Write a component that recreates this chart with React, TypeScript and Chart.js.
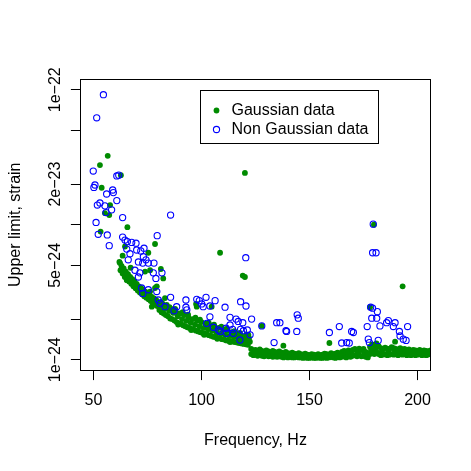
import { useEffect, useRef } from "react";
import { Chart, registerables } from "chart.js";

Chart.register(...registerables);

const FONT = "'Liberation Sans', Arial, Helvetica, sans-serif";
const GREEN = "#008B00";
const BLUE = "#0000FF";

// Axis limits (Hz) and (strain, log10 of units of 1e-24), widened 4% like R does
const X_LIMITS = [50, 200];
const Y_LIMITS_LOG = [0, 2];

const xTicks = [50, 100, 150, 200];
const yTicks = [1, 2, 5, 10, 20, 50, 100]; // units of 1e-24
const yTickLabels = ["1e\u221224", "", "5e\u221224", "", "2e\u221223", "", "1e\u221222"];

const legendLabels = ["Gaussian data", "Non Gaussian data"];
const axisTitles = { x: "Frequency, Hz", y: "Upper limit, strain" };

// [frequency Hz, upper limit strain in units of 1e-24]
const gaussianOutliers: [number, number][] = [
  [56.6, 32.4], [53.0, 27.7], [62.7, 23.3], [53.8, 18.8], [57.7, 14.0], [55.3, 12.2], [57.3, 11.8],
  [65.7, 9.6], [53.3, 8.9], [78.5, 7.2], [64.6, 6.9], [63.5, 5.9], [75.4, 6.2], [62.3, 5.2],
  [67.2, 4.8], [73.9, 4.5], [76.2, 4.6], [81.2, 4.7], [82.3, 4.0], [65.4, 3.9], [66.9, 3.8],
  [68.4, 3.7], [70.8, 3.3], [72.3, 3.2], [76.2, 3.2], [78.5, 3.4], [79.3, 3.5], [77.0, 2.9],
  [77.7, 2.55], [77.0, 2.47], [83.1, 2.86], [83.9, 2.55], [120.1, 24.2], [108.6, 6.2], [119.1, 4.2],
  [120.1, 4.1], [193.1, 3.5], [178.0, 2.45], [179.8, 10.0], [127.9, 1.78], [159.2, 1.33],
  [137.9, 1.27], [189.6, 1.36], [121.7, 1.53], [97.5, 2.59], [97.8, 2.47], [104.7, 2.47],
];

const gaussianBandLow: [number, number][] = [
  [62, 5.3], [62.5, 4.6], [63, 4.95], [63.5, 4.35], [64, 4.75], [64.5, 4.1], [65, 4.5], [65.5, 3.9],
  [66, 4.3], [66.5, 3.8], [67, 4.1], [67.5, 3.65], [68, 3.95], [68.5, 3.5], [69, 3.8], [69.5, 3.38],
  [70, 3.65], [70.5, 3.25], [71, 3.5], [71.5, 3.15], [72, 3.4], [72.5, 3.05], [73, 3.3], [73.5, 2.95],
  [74, 3.2], [74.5, 2.88], [75, 3.1], [75.5, 2.8], [76, 3.0], [76.5, 2.72], [77, 2.92], [77.5, 2.65],
  [78, 2.85], [78.5, 2.57], [79, 2.78], [79.5, 2.5],
  [80.0, 2.62], [80.5, 2.34], [81.0, 2.51], [81.5, 2.25], [82.0, 2.6], [82.5, 2.2], [83.0, 2.4],
  [83.5, 2.14], [84.0, 2.47], [84.5, 2.1], [85.0, 2.3], [85.5, 2.02], [86.0, 2.38], [86.5, 2.0],
  [87.0, 2.22], [87.5, 1.95], [88.0, 2.3], [88.5, 1.9], [89.0, 2.1], [89.5, 1.86], [90.0, 2.2],
  [90.5, 1.84], [91.0, 2.0], [91.5, 1.8], [92.0, 2.14], [92.5, 1.77], [93.0, 1.94], [93.5, 1.74],
  [94.0, 2.06], [94.5, 1.72], [95.0, 1.88], [95.5, 1.69], [96.0, 2.0], [96.5, 1.67], [97.0, 1.82],
  [97.5, 1.64], [98.0, 1.95], [98.5, 1.62], [99.0, 1.77], [99.5, 1.6], [100.0, 1.9], [100.5, 1.58],
  [101.0, 1.72], [101.5, 1.56], [102.0, 1.85], [102.5, 1.54], [103.0, 1.68], [103.5, 1.52],
  [104.0, 1.8], [104.5, 1.5], [105.0, 1.64], [105.5, 1.48], [106.0, 1.76], [106.5, 1.47], [107.0, 1.6],
  [107.5, 1.45], [108.0, 1.72], [108.5, 1.44], [109.0, 1.56], [109.5, 1.42], [110.0, 1.68],
  [110.5, 1.41], [111.0, 1.53], [111.5, 1.39], [112.0, 1.64], [112.5, 1.38], [113.0, 1.5],
  [113.5, 1.37], [114.0, 1.6], [114.5, 1.36], [115.0, 1.47], [115.5, 1.35], [116.0, 1.56],
  [116.5, 1.34], [117.0, 1.44], [117.5, 1.33], [118.0, 1.52], [118.5, 1.32], [119.0, 1.42],
  [119.5, 1.31], [120.0, 1.48], [120.5, 1.3], [121.0, 1.39], [121.5, 1.29], [122.0, 1.45], [122.4, 1.36],
  [81.3, 2.68], [85.2, 2.45], [87.8, 2.38], [91.3, 2.25], [93.8, 2.16], [97.2, 2.05], [99.3, 1.98],
  [103.3, 1.88], [105.8, 1.82], [109.2, 1.76], [111.8, 1.7], [115.2, 1.63], [117.8, 1.58],
  [120.8, 1.54], [89.2, 1.82], [95.2, 1.66], [101.2, 1.53], [107.3, 1.43], [113.2, 1.35],
];

const gaussianBandHigh: [number, number][] = [
  [123, 1.2], [123, 1.1], [124, 1.17], [124, 1.08], [124.5, 1.13], [125, 1.18], [125, 1.09], [126, 1.15],
  [126, 1.07], [127, 1.19], [127, 1.1], [127.5, 1.14], [128, 1.16], [128, 1.07], [129, 1.14], [129, 1.06],
  [130, 1.17], [130, 1.08], [130.5, 1.12], [131, 1.15], [131, 1.06], [132, 1.13], [132, 1.07], [133, 1.16],
  [133, 1.05], [133.5, 1.1], [134, 1.14], [134, 1.06], [135, 1.12], [135, 1.05], [136, 1.15], [136, 1.06],
  [136.5, 1.1], [137, 1.13], [137, 1.05], [138, 1.12], [138, 1.04], [139, 1.14], [139, 1.06], [139.5, 1.09],
  [140, 1.12], [140, 1.04], [141, 1.11], [141, 1.05], [142, 1.13], [142, 1.04], [142.5, 1.08], [143, 1.11],
  [143, 1.04], [144, 1.1], [144, 1.05], [145, 1.12], [145, 1.04], [145.5, 1.07], [146, 1.1], [146, 1.04],
  [147, 1.09], [147, 1.03], [148, 1.11], [148, 1.04], [148.5, 1.07], [149, 1.09], [149, 1.03], [150, 1.08],
  [150, 1.03], [151, 1.1], [151, 1.04], [151.5, 1.06], [152, 1.09], [152, 1.03], [153, 1.08], [153, 1.03],
  [154, 1.1], [154, 1.04], [154.5, 1.06], [155, 1.08], [155, 1.03], [156, 1.09], [156, 1.03], [157, 1.11],
  [157, 1.04], [157.5, 1.07], [158, 1.1], [158, 1.03], [159, 1.09], [159, 1.04], [160, 1.12], [160, 1.05],
  [160.5, 1.07], [161, 1.1], [161, 1.04], [162, 1.11], [162, 1.03], [163, 1.13], [163, 1.05], [163.5, 1.08],
  [164, 1.1], [164, 1.04], [165, 1.14], [165, 1.05], [166, 1.16], [166, 1.06], [166.5, 1.1], [167, 1.13],
  [167, 1.04], [168, 1.17], [168, 1.06], [169, 1.15], [169, 1.05], [169.5, 1.1], [170, 1.18], [170, 1.07],
  [171, 1.2], [171, 1.08], [172, 1.17], [172, 1.06], [172.5, 1.12], [173, 1.21], [173, 1.08], [174, 1.18],
  [174, 1.06], [175, 1.2], [175, 1.07], [175.5, 1.13], [176, 1.14], [176, 1.05], [177, 1.12], [177, 1.04],
  [178, 1.25], [178, 1.1], [178.5, 1.18], [179, 1.3], [179, 1.12], [180, 1.28], [180, 1.1], [180.5, 1.2],
  [181, 1.32], [181, 1.14], [182, 1.26], [182, 1.1], [183, 1.22], [183, 1.08], [183.5, 1.15], [184, 1.2],
  [184, 1.09], [185, 1.23], [185, 1.1], [186, 1.21], [186, 1.08], [186.5, 1.15], [187, 1.2], [187, 1.09],
  [188, 1.24], [188, 1.1], [189, 1.22], [189, 1.09], [189.5, 1.16], [190, 1.2], [190, 1.1], [191, 1.18],
  [191, 1.08], [192, 1.22], [192, 1.1], [192.5, 1.15], [193, 1.19], [193, 1.09], [194, 1.2], [194, 1.1],
  [195, 1.17], [195, 1.08], [195.5, 1.12], [196, 1.19], [196, 1.09], [197, 1.16], [197, 1.08], [198, 1.18],
  [198, 1.1], [198.5, 1.13], [199, 1.17], [199, 1.08], [200, 1.16], [200, 1.09], [201, 1.18], [201, 1.1],
  [201.5, 1.13], [202, 1.15], [202, 1.08], [203, 1.17], [203, 1.09], [204, 1.16], [204, 1.08], [204.5, 1.12],
  [205, 1.15], [205, 1.09], [206, 1.17], [206, 1.1],
];

const nonGaussianPoints: [number, number][] = [
  [54.6, 92], [51.5, 62], [49.9, 25], [60.8, 23], [61.7, 23.3], [50.7, 19.7], [50.2, 18.9], [58.9, 18.1],
  [56.1, 16.9], [59.2, 17.3], [60.8, 15.1], [51.8, 14.0], [53.0, 14.5], [55.3, 13.8], [58.4, 12.9],
  [55.8, 12.3], [85.7, 11.8], [63.5, 11.3], [51.2, 10.4], [52.2, 8.5], [56.4, 8.4], [57.3, 7.0],
  [63.5, 8.1], [64.6, 7.7], [65.7, 7.5], [67.7, 7.4], [69.7, 7.3], [79.5, 8.3], [65.4, 6.6], [66.9, 6.1],
  [70.0, 6.5], [71.9, 6.4], [73.4, 6.7], [73.1, 5.8], [74.3, 5.5], [75.4, 5.2], [70.8, 5.3], [72.8, 5.2],
  [78.0, 5.2], [66.1, 5.5], [69.2, 4.6], [71.5, 4.4], [77.7, 4.4], [81.7, 4.4], [70.8, 4.1], [78.9, 4.0],
  [72.3, 3.4], [72.8, 3.1], [75.4, 3.3], [79.3, 3.2], [80.0, 2.77], [80.8, 2.62], [85.7, 2.9], [92.8, 2.77],
  [97.8, 2.8], [83.1, 2.47], [88.5, 2.47], [92.8, 2.45], [99.0, 2.74], [102.1, 2.9], [106.3, 2.74],
  [100.1, 2.59], [100.8, 2.47], [103.9, 2.5], [110.9, 2.45], [118.1, 2.69], [120.6, 2.5], [87.3, 2.31],
  [93.2, 2.34], [103.9, 2.08], [102.4, 1.86], [105.5, 1.74], [107.8, 1.66], [108.6, 1.62], [113.2, 2.06],
  [116.0, 2.0], [117.0, 1.92], [119.1, 1.88], [111.4, 1.71], [113.2, 1.81], [114.4, 1.68], [114.7, 1.57],
  [111.7, 1.57], [118.1, 1.68], [119.4, 1.64], [121.2, 1.66], [122.5, 1.53], [117.8, 1.4], [123.2, 2.0],
  [127.9, 1.78], [134.8, 1.88], [139.4, 1.62], [133.6, 1.34], [144.3, 2.15], [144.8, 2.03], [139.1, 1.64],
  [144.1, 1.62], [159.2, 1.59], [163.8, 1.76], [169.5, 1.62], [170.3, 1.59], [164.9, 1.33], [167.2, 1.34],
  [168.4, 1.33], [178.3, 2.45], [179.2, 2.41], [181.4, 2.27], [178.8, 2.03], [181.1, 2.03], [176.7, 1.76],
  [182.6, 1.78], [185.7, 1.88], [186.5, 1.95], [189.6, 1.88], [188.8, 1.76], [195.4, 1.76], [191.6, 1.62],
  [191.9, 1.5], [193.4, 1.42], [194.7, 1.39], [177.2, 1.42], [177.7, 1.34], [181.8, 1.39], [179.5, 10.1],
  [179.2, 6.2], [180.8, 6.2], [120.5, 5.7], [136.3, 1.88],
];

const gaussianPoints = [...gaussianOutliers, ...gaussianBandLow, ...gaussianBandHigh];

// R-style 4% axis extension
const xSpan = X_LIMITS[1] - X_LIMITS[0];
const X_MIN = X_LIMITS[0] - 0.04 * xSpan;
const X_MAX = X_LIMITS[1] + 0.04 * xSpan;
const ySpan = Y_LIMITS_LOG[1] - Y_LIMITS_LOG[0];
const Y_MIN = Math.pow(10, Y_LIMITS_LOG[0] - 0.04 * ySpan);
const Y_MAX = Math.pow(10, Y_LIMITS_LOG[1] + 0.04 * ySpan);

const framePlugin = {
  id: "rframe",
  afterDatasetsDraw(chart: any) {
    const { ctx, chartArea: a } = chart;
    ctx.save();
    ctx.strokeStyle = "#000";
    ctx.lineWidth = 1;
    const l = Math.floor(a.left) + 0.5;
    const t = Math.floor(a.top) + 0.5;
    const r = Math.floor(a.right) + 0.5;
    const b = Math.floor(a.bottom) + 0.5;
    ctx.strokeRect(l, t, r - l, b - t);

    // legend box
    const bx = 200.5, by = 90.5, bw = 178, bh = 53;
    ctx.fillStyle = "#fff";
    ctx.fillRect(bx, by, bw, bh);
    ctx.strokeRect(bx, by, bw, bh);
    const symX = 216.5;
    const textX = 231.5;
    const rows = [110.5, 129.5];
    ctx.beginPath();
    ctx.arc(symX, rows[0], 2.9, 0, Math.PI * 2);
    ctx.fillStyle = GREEN;
    ctx.fill();
    ctx.beginPath();
    ctx.arc(symX, rows[1], 3.1, 0, Math.PI * 2);
    ctx.strokeStyle = BLUE;
    ctx.lineWidth = 1.1;
    ctx.stroke();
    ctx.fillStyle = "#000";
    ctx.font = `16px ${FONT}`;
    ctx.textAlign = "left";
    ctx.textBaseline = "middle";
    ctx.fillText(legendLabels[0], textX, rows[0]);
    ctx.fillText(legendLabels[1], textX, rows[1]);
    ctx.restore();
  },
};

export default function App() {
  const ref = useRef<HTMLCanvasElement>(null);
  useEffect(() => {
    const canvas = ref.current;
    if (!canvas) return;
    const chart = new Chart(canvas, {
      type: "scatter",
      data: {
        datasets: [
          {
            label: legendLabels[0],
            data: gaussianPoints.map(([x, y]) => ({ x, y })),
            pointStyle: "circle",
            pointRadius: 2.9,
            pointBackgroundColor: GREEN,
            pointBorderWidth: 0,
            pointBorderColor: GREEN,
            order: 1,
            clip: 0,
          },
          {
            label: legendLabels[1],
            data: nonGaussianPoints.map(([x, y]) => ({ x, y })),
            pointStyle: "circle",
            pointRadius: 3.1,
            pointBackgroundColor: "rgba(0,0,0,0)",
            pointBorderColor: BLUE,
            pointBorderWidth: 1.1,
            order: 0,
            clip: 0,
          },
        ],
      },
      options: {
        animation: false,
        responsive: false,
        devicePixelRatio: 1,
        events: [],
        layout: { padding: { top: 79, right: 40.5, bottom: 0, left: 0 } },
        plugins: {
          legend: { display: false },
          tooltip: { enabled: false },
          title: { display: false },
        },
        scales: {
          x: {
            type: "linear",
            position: "bottom",
            min: X_MIN,
            max: X_MAX,
            afterBuildTicks: (s: any) => {
              s.ticks = xTicks.map((v) => ({ value: v }));
            },
            afterFit: (s: any) => {
              s.height = 100.5;
            },
            grid: {
              display: true,
              drawOnChartArea: false,
              drawTicks: true,
              tickLength: 9.6,
              color: "#000",
              lineWidth: 1,
            },
            border: { display: false },
            ticks: {
              color: "#000",
              font: { family: FONT, size: 16 },
              padding: 11.3,
              maxRotation: 0,
              autoSkip: false,
            },
            title: {
              display: true,
              text: axisTitles.x,
              color: "#000",
              font: { family: FONT, size: 16 },
              padding: { top: 0, bottom: 20.7 },
            },
          },
          y: {
            type: "logarithmic",
            position: "left",
            min: Y_MIN,
            max: Y_MAX,
            afterBuildTicks: (s: any) => {
              s.ticks = yTicks.map((v) => ({ value: v }));
            },
            afterFit: (s: any) => {
              s.width = 80.5;
            },
            grid: {
              display: true,
              drawOnChartArea: false,
              drawTicks: true,
              tickLength: 9.6,
              color: "#000",
              lineWidth: 1,
            },
            border: { display: false },
            ticks: {
              color: "#000",
              font: { family: FONT, size: 16 },
              minRotation: 90,
              maxRotation: 90,
              crossAlign: "center",
              padding: -7.5,
              autoSkip: false,
              callback: (v: any) => {
                const i = yTicks.indexOf(Number(v));
                return i >= 0 ? yTickLabels[i] : "";
              },
            },
            title: {
              display: true,
              text: axisTitles.y,
              color: "#000",
              font: { family: FONT, size: 16 },
              padding: { top: 6.4, bottom: 0 },
            },
          },
        },
      },
      plugins: [framePlugin],
    } as any);
    return () => chart.destroy();
  }, []);
  return (
    <div style={{ position: "absolute", left: 0, top: 0, width: 471, height: 471 }}>
      <canvas ref={ref} width={471} height={471} style={{ width: 471, height: 471, display: "block" }} />
    </div>
  );
}
